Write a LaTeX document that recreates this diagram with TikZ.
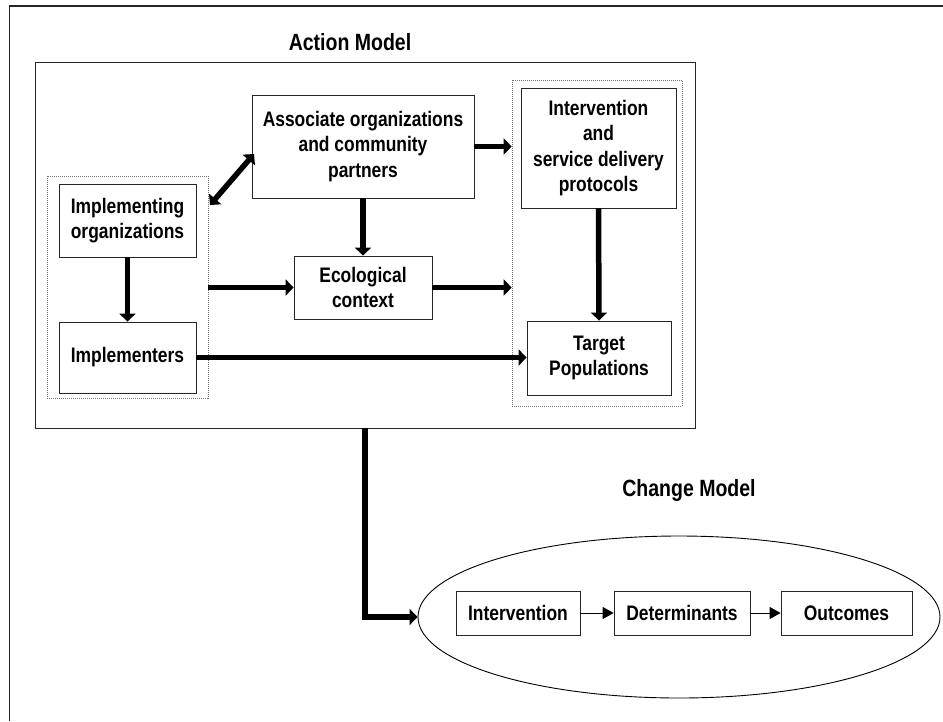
\documentclass[tikz,border=0pt]{standalone}
\usepackage{fontspec}
\setmainfont[FakeStretch=0.83]{Liberation Sans}
\usetikzlibrary{arrows.meta,shapes.geometric,shadows,calc}
\begin{document}
\begin{tikzpicture}[x=1pt,y=1pt,
  txt/.style={font=\bfseries\fontsize{21}{25.5}\selectfont, align=center},
  ttl/.style={font=\bfseries\fontsize{23.5}{28}\selectfont},
  box/.style={txt, draw=black!85, line width=0.8pt, fill=white, inner sep=0pt,
    drop shadow={shadow xshift=1pt, shadow yshift=-1pt, fill=black!60, opacity=1}},
  dotbox/.style={draw=black!55, line width=0.6pt, dash pattern=on 1pt off 1pt, inner sep=0pt},
  bighead/.style={Triangle[length=8pt,width=16pt]},
  thick arrow/.style={line width=5.5pt, -{Triangle[length=8pt,width=16pt]}},
  thin arrow/.style={line width=1pt, -{Triangle[length=11pt,width=12pt]}}]
\useasboundingbox (0,0) rectangle (943,-721);
\fill[white] (0,0) rectangle (943,-721);
% outer frame
\draw[line width=1.2pt, black!85] (9.5,-721) -- (9.5,-6) -- (943,-6);
% action model
\node[ttl] (amt) at (350,-42) {Action Model};
\node[draw=black!85, line width=0.8pt, minimum width=660pt, minimum height=366pt, inner sep=0pt] (am) at (365,-245) {};
\node[dotbox, minimum width=161pt, minimum height=222pt] (ld) at (127.5,-287) {};
\node[dotbox, minimum width=170pt, minimum height=326pt] (rd) at (597,-243) {};
\node[box, minimum width=137pt, minimum height=73pt] (io) at (127.5,-220.5) {Implementing\\organizations};
\node[box, minimum width=137pt, minimum height=71pt] (im) at (127.5,-357.5) {Implementers};
\node[box, minimum width=222pt, minimum height=103pt] (ao) at (363,-146.5) {Associate organizations\\and community\\partners};
\node[box, minimum width=138pt, minimum height=63pt] (ec) at (363,-287.5) {Ecological\\context};
\node[box, minimum width=155pt, minimum height=120pt] (ip) at (598.5,-148) {Intervention\\and\\service delivery\\protocols};
\node[box, minimum width=144pt, minimum height=74pt] (tp) at (599,-358) {Target\\Populations};
% connectors in action model
\coordinate (d1) at (210,-205);
\coordinate (d2) at (254,-154);
\draw[line width=5.5pt, {Triangle[length=8pt,width=16pt]}-{Triangle[length=8pt,width=16pt]}] (d1) -- (d2);
\draw[thick arrow] (ao.east) -- (ao.east -| rd.west);
\draw[thick arrow] (ao.south) -- (ec.north);
\draw[thick arrow] (io.south) -- (im.north);
\draw[thick arrow] (ec.west -| ld.east) -- (ec.west);
\draw[thick arrow] (ec.east) -- (ec.east -| rd.west);
\draw[thick arrow] (ip.south) -- (tp.north);
\draw[thick arrow] (im.east) -- (im.east -| tp.west);
% change model
\node[ttl] (cmt) at (689,-490) {Change Model};
\node[ellipse, draw=black, line width=0.9pt, minimum width=522pt, minimum height=162pt, inner sep=0pt] (cm) at (679,-617) {};
\node[box, minimum width=124pt, minimum height=44pt] (iv) at (518,-613) {Intervention};
\node[box, minimum width=136pt, minimum height=44pt] (de) at (682,-613) {Determinants};
\node[box, minimum width=131pt, minimum height=44pt] (oc) at (846.5,-613) {Outcomes};
\draw[thin arrow] (iv.east) -- (de.west);
\draw[thin arrow] (de.east) -- (oc.west);
\draw[thick arrow] (am.south) |- (cm.west);
\end{tikzpicture}
\end{document}
